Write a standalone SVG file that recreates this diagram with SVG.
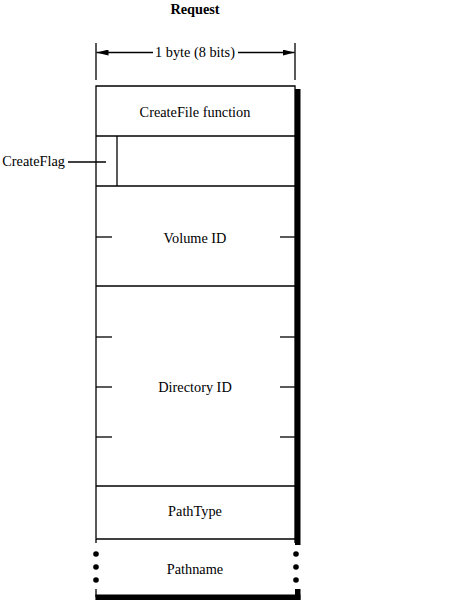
<svg xmlns="http://www.w3.org/2000/svg" width="451" height="613" viewBox="0 0 451 613">
<style>
text{font-family:"Liberation Serif","Times New Roman",serif;font-size:14.3px;fill:#000;text-anchor:middle}
.ln{stroke:#000;stroke-width:1.3;fill:none}
.sh{fill:#000}
</style>
<defs>
<marker id="ah" viewBox="0 0 12 6" refX="12" refY="3" markerWidth="12" markerHeight="6" markerUnits="userSpaceOnUse" orient="auto-start-reverse">
<path d="M0,0 L12,3 L0,6 z" fill="#000"/>
</marker>
</defs>
<rect width="451" height="613" fill="#fff"/>
<g id="title"><text x="195" y="14" font-weight="bold">Request</text></g>
<g id="dimension">
<line class="ln" x1="96" y1="43" x2="96" y2="80"/>
<line class="ln" x1="295" y1="43" x2="295" y2="80"/>
<line class="ln" x1="153" y1="52.5" x2="96.5" y2="52.5" marker-end="url(#ah)"/>
<line class="ln" x1="238" y1="52.5" x2="294.5" y2="52.5" marker-end="url(#ah)"/>
<text x="195" y="57">1 byte (8 bits)</text>
</g>
<g id="frame">
<path class="ln" d="M96,543 V86 H295 V543"/>
<rect class="sh" x="295" y="89" width="5.5" height="456"/>
</g>
<g id="createfile">
<text x="195" y="117">CreateFile function</text>
<line class="ln" x1="96" y1="136" x2="295" y2="136"/>
</g>
<g id="createflag">
<line class="ln" x1="117" y1="136" x2="117" y2="186"/>
<line class="ln" x1="96" y1="186" x2="295" y2="186"/>
</g>
<g id="volumeid">
<line class="ln" x1="96" y1="237" x2="112" y2="237"/>
<line class="ln" x1="280" y1="237" x2="295" y2="237"/>
<text x="195" y="243">Volume ID</text>
<line class="ln" x1="96" y1="286" x2="295" y2="286"/>
</g>
<g id="directoryid">
<line class="ln" x1="96" y1="337" x2="112" y2="337"/>
<line class="ln" x1="280" y1="337" x2="295" y2="337"/>
<line class="ln" x1="96" y1="387" x2="112" y2="387"/>
<line class="ln" x1="280" y1="387" x2="295" y2="387"/>
<line class="ln" x1="96" y1="437" x2="112" y2="437"/>
<line class="ln" x1="280" y1="437" x2="295" y2="437"/>
<text x="195" y="392">Directory ID</text>
<line class="ln" x1="96" y1="486" x2="295" y2="486"/>
</g>
<g id="pathtype">
<text x="195" y="516">PathType</text>
<line class="ln" x1="96" y1="539" x2="295" y2="539"/>
</g>
<g id="pathname">
<circle class="sh" cx="96" cy="554" r="2.8"/>
<circle class="sh" cx="96" cy="567" r="2.8"/>
<circle class="sh" cx="96" cy="580" r="2.8"/>
<circle class="sh" cx="296" cy="554" r="2.8"/>
<circle class="sh" cx="296" cy="567" r="2.8"/>
<circle class="sh" cx="296" cy="580" r="2.8"/>
<text x="195" y="574">Pathname</text>
<line class="ln" x1="96" y1="589" x2="96" y2="597"/>
<rect class="sh" x="95.4" y="594.5" width="205" height="5.5"/>
<rect class="sh" x="295" y="589" width="5.5" height="11"/>
</g>
<g id="connectors">
<text x="65" y="166" style="text-anchor:end">CreateFlag</text>
<line class="ln" x1="68" y1="162" x2="106" y2="162"/>
</g>
</svg>
